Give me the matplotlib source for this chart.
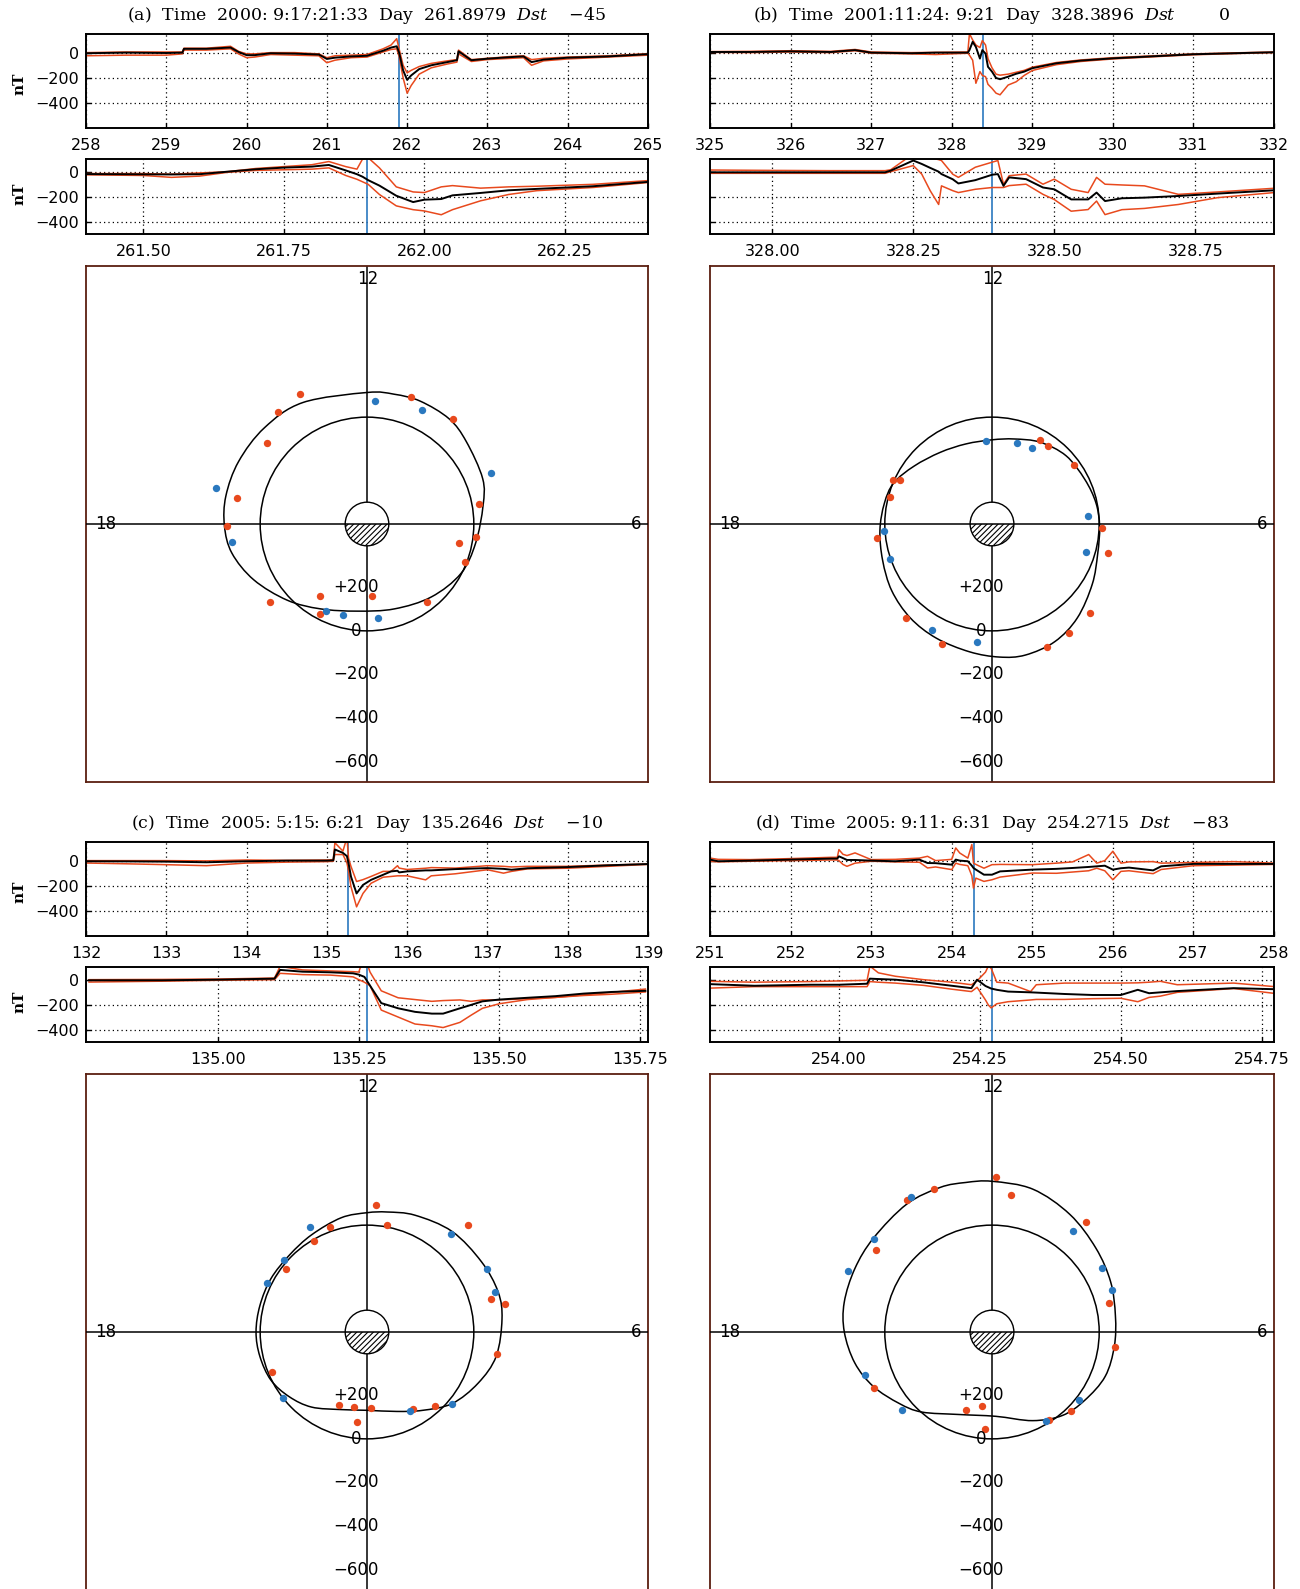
import numpy as np
import matplotlib
matplotlib.use("Agg")
import matplotlib.pyplot as plt
from matplotlib.patches import Circle, Wedge, PathPatch
from matplotlib.path import Path

plt.rcParams['font.family'] = ['DejaVu Sans']
plt.rcParams['mathtext.fontset'] = 'dejavuserif'
plt.rcParams['hatch.linewidth'] = 0.8

# ---------------- data ----------------
# panel (a)
A_EVENT = 261.8979
A_TITLE = "(a)  Time  2000: 9:17:21:33  Day  261.8979  $\\mathit{Dst}$    \u221245"
A_TOP_T = [258.0, 258.5, 259.0, 259.2, 259.22, 259.5, 259.8, 259.9, 260.0, 260.1, 260.3, 260.6, 260.9,
           261.0, 261.1, 261.3, 261.5, 261.7, 261.8, 261.87, 261.9, 261.95, 262.0, 262.05, 262.15, 262.3,
           262.5, 262.62, 262.64, 262.8, 263.0, 263.3, 263.45, 263.55, 263.7, 264.0, 264.5, 265.0]
A_TOP_BLACK = [-5, 0, -3, 0, 30, 30, 40, 5, -20, -20, -5, -8, -15, -50, -40, -30, -25, 15, 40, 50, 0, -140,
               -215, -180, -130, -100, -75, -60, 10, -60, -48, -35, -30, -75, -55, -40, -30, -12]
A_TOP_RED1 = [0, 5, 5, 5, 35, 35, 50, 10, -10, -10, 0, 0, -10, -40, -25, -20, -15, 30, 60, 110, 30, -100,
              -160, -140, -110, -85, -65, -55, 20, -55, -45, -30, -25, -55, -45, -35, -25, -8]
A_TOP_RED2 = [-25, -20, -20, -10, 20, 20, 30, -10, -40, -35, -15, -20, -25, -80, -60, -40, -35, 5, 25, 30, -30,
              -200, -320, -260, -170, -120, -90, -75, -10, -70, -55, -45, -40, -100, -65, -50, -35, -20]
A_BOT_T = [261.40, 261.50, 261.55, 261.60, 261.65, 261.70, 261.75, 261.80, 261.83, 261.86, 261.88, 261.89,
           261.90, 261.92, 261.95, 261.98, 262.00, 262.03, 262.05, 262.10, 262.15, 262.20, 262.30, 262.40]
A_BOT_BLACK = [-19, -21, -22, -20, 0, 19, 32, 40, 53, 10, -20, -40, -67, -110, -190, -240, -221, -216, -187,
               -168, -147, -136, -115, -80]
A_BOT_RED1 = [-15, -15, -20, -10, 0, 25, 40, 55, 80, 40, 20, 100, 110, 30, -120, -160, -165, -120, -110, -130,
              -120, -115, -100, -70]
A_BOT_RED2 = [-25, -30, -45, -35, -5, 10, 15, 20, 30, -30, -60, -80, -100, -180, -270, -300, -310, -340, -300,
              -230, -180, -150, -125, -85]
A_RED_LT = [13.82, 14.57, 15.40, 17.25, 18.05, 20.58, 21.80, 22.18, 0.28, 2.49, 4.60, 5.22, 5.55, 6.67, 9.39, 10.73]
A_RED_NT = [-179, -165, -103, -120, -154, -83, 98, 24, 161, 39, 9, 57, -15, -33, -133, -128]
A_BLUE_LT = [11.75, 10.27, 7.49, 17.11, 18.51, 22.33, 23.03, 0.45]
A_BLUE_NT = [-73, -89, -127, -224, -134, 49, 59, 58]
A_FIT_LT = [12.00, 11.21, 10.44, 9.47, 8.65, 7.43, 6.60, 5.34, 4.15, 2.76, 1.19, 23.58, 22.08, 20.91, 19.75,
            18.81, 18.05, 17.25, 16.27, 15.12, 13.86]
A_FIT_NT = [-113, -118, -124, -122, -102, -80, -49, -16, 3, 44, 81, 88, 46, -16, -89, -144, -164, -170, -165,
            -155, -140]

# panel (b)
B_EVENT = 328.3896
B_TITLE = "(b)  Time  2001:11:24: 9:21  Day  328.3896  $\\mathit{Dst}$        0"
B_TOP_T = [325.0, 325.5, 326.0, 326.5, 326.8, 327.0, 327.5, 327.8, 328.2, 328.22, 328.26, 328.3, 328.35, 328.38,
           328.42, 328.45, 328.5, 328.55, 328.6, 328.7, 328.8, 328.9, 329.0, 329.3, 329.6, 330.0, 330.5, 331.0,
           331.5, 332.0]
B_TOP_BLACK = [5, 5, 10, 5, 20, 0, -5, 0, 0, 20, 85, 45, -47, 20, -8, -112, -150, -200, -210, -190, -167, -150,
               -123, -84, -63, -45, -29, -13, -5, 3]
B_TOP_RED1 = [8, 10, 15, 10, 25, 5, 0, 2, 5, 150, 100, 60, 40, 95, 60, -47, -120, -170, -178, -170, -155, -140,
              -115, -78, -58, -40, -25, -10, -2, 5]
B_TOP_RED2 = [2, 0, 5, 0, 15, -5, -10, -15, -5, -20, -60, -242, -150, -180, -190, -250, -282, -320, -333, -256,
              -230, -180, -141, -95, -70, -50, -33, -17, -8, 0]
B_BOT_T = [327.89, 328.0, 328.1, 328.2, 328.21, 328.25, 328.265, 328.28, 328.295, 328.30, 328.32, 328.33, 328.36,
           328.39, 328.40, 328.41, 328.42, 328.45, 328.48, 328.50, 328.53, 328.56, 328.575, 328.59, 328.62,
           328.66, 328.72, 328.79, 328.89]
B_BOT_BLACK = [-5, -5, -5, -5, 8, 88, 61, 30, 0, -19, -60, -93, -67, -24, -19, -112, -45, -59, -125, -139, -219,
               -219, -165, -232, -210, -205, -192, -173, -147]
B_BOT_RED1 = [13, 10, 8, 8, 15, 141, 128, 110, 95, 88, -20, -45, 35, 75, 88, -99, -32, -19, -99, -59, -139, -165,
              -45, -99, -105, -112, -179, -160, -131]
B_BOT_RED2 = [-13, -13, -13, -13, 0, 48, -19, -150, -259, -112, -150, -165, -139, -125, -125, -125, -110, -99,
              -179, -220, -312, -299, -232, -339, -300, -290, -259, -205, -165]
B_RED_LT = [10.02, 9.63, 8.39, 16.41, 16.29, 17.03, 18.46, 5.85, 5.05, 21.17, 22.51, 1.60, 2.35, 3.18]
B_RED_NT = [46, 53, 26, -7, 24, 6, -41, -12, -59, -95, -106, -127, -121, -115]
B_BLUE_LT = [12.29, 10.87, 10.17, 6.32, 4.91, 18.25, 19.27, 22.04, 23.53]
B_BLUE_NT = [108, 101, 97, 49, 40, -3, -5, -67, -55]
B_FIT_LT = [12.00, 11.02, 9.97, 8.85, 7.71, 6.76, 5.91, 4.95, 3.93, 2.81, 1.87, 0.95, 0.21, 23.34, 22.27, 21.27,
            20.25, 19.23, 18.21, 17.27, 16.48, 15.55, 14.39, 13.20]
B_FIT_NT = [104, 87, 55, 29, 19, 5, -2, -12, -45, -91, -121, -130, -121, -105, -92, -80, -61, -37, -23, -11, 3,
            46, 85, 104]

# panel (c)
C_EVENT = 135.2646
C_TITLE = "(c)  Time  2005: 5:15: 6:21  Day  135.2646  $\\mathit{Dst}$    \u221210"
C_TOP_T = [132.0, 132.5, 133.0, 133.5, 134.0, 134.5, 135.0, 135.08, 135.1, 135.2, 135.25, 135.27, 135.3, 135.37,
           135.45, 135.55, 135.7, 135.8, 135.88, 135.9, 136.0, 136.23, 136.3, 136.6, 137.0, 137.2, 137.3, 137.5,
           138.0, 138.5, 139.0]
C_TOP_BLACK = [-5, -6, -8, -13, -5, 0, 0, 2, 88, 61, 35, -20, -125, -259, -192, -152, -112, -85, -80, -93, -85,
               -77, -77, -67, -59, -65, -72, -60, -51, -37, -27]
C_TOP_RED1 = [0, 0, 0, -2, 5, 2, 5, 8, 141, 75, 181, 20, -45, -165, -150, -125, -85, -85, -40, -59, -70, -60,
              -55, -59, -40, -45, -50, -45, -45, -35, -27]
C_TOP_RED2 = [-19, -25, -32, -40, -19, -12, -8, -5, 48, 48, -19, -80, -205, -365, -259, -179, -131, -125, -120,
              -120, -120, -152, -120, -104, -72, -99, -85, -65, -60, -45, -30]
C_BOT_T = [134.77, 134.90, 135.00, 135.10, 135.11, 135.15, 135.20, 135.24, 135.25, 135.26, 135.27, 135.29,
           135.32, 135.35, 135.38, 135.40, 135.43, 135.45, 135.47, 135.50, 135.55, 135.60, 135.65, 135.70, 135.76]
C_BOT_BLACK = [-5, -5, 0, 8, 77, 63, 58, 50, 40, 22, -47, -185, -226, -254, -268, -268, -226, -199, -171, -157,
               -143, -130, -110, -97, -88]
C_BOT_RED1 = [0, 2, 5, 13, 105, 77, 69, 63, 60, 188, 60, -88, -143, -157, -171, -165, -160, -171, -160, -160,
              -150, -140, -120, -100, -74]
C_BOT_RED2 = [-19, -12, -5, 0, 50, 40, 36, 22, 0, -20, -47, -240, -295, -350, -364, -378, -337, -280, -226, -190,
              -157, -140, -125, -115, -97]
C_RED_LT = [11.73, 11.29, 9.12, 13.30, 14.03, 15.47, 7.00, 6.77, 5.37, 19.53, 22.61, 23.35, 0.19, 23.57, 2.07, 2.85]
C_RED_NT = [-93, -10, -184, -19, 8, 17, -101, -155, -115, 15, 132, 141, 143, 77, 78, 28]
C_BLUE_LT = [13.89, 15.27, 16.27, 9.29, 7.85, 7.16, 20.55, 1.91, 3.31]
C_BLUE_NT = [-57, -15, -19, -105, -130, -123, 2, 79, -19]
C_FIT_LT = [12.00, 11.36, 10.51, 9.32, 8.10, 7.13, 6.36, 5.29, 4.35, 3.33, 2.35, 1.37, 0.00, 22.77, 21.57, 20.65,
            19.77, 18.85, 18.00, 17.08, 16.07, 15.01, 13.98, 12.85]
C_FIT_NT = [-57, -68, -89, -114, -126, -139, -132, -113, -71, -20, 50, 101, 131, 115, 62, 26, -3, -14, -19, -16,
            -14, -11, -23, -47]

# panel (d)
D_EVENT = 254.2715
D_TITLE = "(d)  Time  2005: 9:11: 6:31  Day  254.2715  $\\mathit{Dst}$    \u221283"
D_TOP_T = [251.0, 251.1, 251.5, 252.0, 252.5, 252.58, 252.6, 252.65, 252.7, 252.8, 253.0, 253.3, 253.6, 253.7,
           253.8, 254.0, 254.05, 254.1, 254.2, 254.25, 254.27, 254.3, 254.4, 254.5, 254.6, 255.0, 255.3, 255.5,
           255.7, 255.8, 255.9, 256.0, 256.1, 256.2, 256.5, 256.6, 257.0, 257.5, 258.0]
D_TOP_BLACK = [8, -5, 0, 8, 16, 16, 34, 20, 5, 5, 0, -5, 8, -19, -20, -32, 8, 0, -5, -40, -58, -71, -111, -111,
               -85, -71, -65, -58, -50, -45, -40, -71, -60, -55, -77, -45, -26, -26, -26]
D_TOP_RED1 = [20, 10, 8, 16, 26, 26, 87, 50, 40, 61, 8, 10, 20, 34, 0, 10, 100, 60, 20, 127, -20, -30, -60, -32,
              -30, -32, -20, -10, 48, -20, 0, 74, -20, -10, -8, -20, -15, -8, -20]
D_TOP_RED2 = [-5, -10, -5, 0, 5, 5, 0, -30, -45, -20, -5, -10, -13, -58, -50, -71, -20, -30, -40, -120, -217,
              -138, -164, -151, -130, -98, -100, -90, -80, -60, -80, -151, -85, -80, -103, -70, -40, -35, -30]
D_BOT_T = [253.77, 253.85, 253.95, 254.00, 254.05, 254.055, 254.07, 254.10, 254.15, 254.20, 254.235, 254.245,
           254.26, 254.265, 254.27, 254.28, 254.30, 254.34, 254.35, 254.40, 254.45, 254.50, 254.53, 254.55,
           254.57, 254.60, 254.70, 254.77]
D_BOT_BLACK = [-35, -48, -40, -40, -32, 8, 5, 0, -21, -48, -67, 0, -50, -60, -70, -80, -94, -100, -102, -113,
               -121, -121, -80, -107, -100, -90, -67, -75]
D_BOT_RED1 = [-13, -20, -15, -10, -5, 107, 54, 27, 0, -20, -40, -10, 60, 107, 90, -20, -27, -94, -40, -27, -27,
              -27, -25, -20, -13, -40, -27, -54]
D_BOT_RED2 = [-67, -55, -55, -55, -55, -15, -20, -27, -45, -75, -94, -60, -161, -200, -223, -190, -174, -160,
              -156, -156, -150, -147, -174, -140, -130, -100, -70, -107]
D_RED_LT = [11.90, 11.47, 13.47, 14.19, 9.29, 15.65, 6.92, 5.52, 19.70, 22.77, 23.50, 23.71, 2.99, 2.18]
D_RED_NT = [-223, -142, -215, -228, -172, -161, -63, -77, -107, 115, 149, 44, -19, 11]
D_BLUE_LT = [14.06, 15.44, 16.46, 9.43, 8.00, 7.30, 19.25, 20.72, 2.07, 3.45]
D_BLUE_NT = [-233, -200, -225, -101, -93, -90, -125, -55, 12, -17]
D_FIT_LT = [12.00, 10.94, 9.77, 8.60, 7.53, 6.50, 5.56, 4.57, 3.57, 2.67, 1.64, 0.17, 22.53, 21.25, 20.51, 19.65,
            18.85, 18.00, 17.24, 16.34, 15.43, 14.24, 13.31, 12.66]
D_FIT_NT = [-201, -191, -156, -121, -99, -79, -73, -66, -37, -10, 43, 103, 82, 2, -46, -107, -153, -185, -199,
            -201, -202, -214, -214, -206]

Y_TICKS = [0, -200, -400]
DIAL_LEVELS = [200, 0, -200, -400, -600]
DIAL_HOURS = [12, 18, 6]
ZERO_LEVEL = 0

# ---------------- styling / layout ----------------
W, H = 1300, 1589
fig = plt.figure(figsize=(W / 100, H / 100), dpi=100)

RED = '#e8491d'
BLUE = '#2a78bf'
FRAME = '#5a1f10'
R0 = 490.0      # dial radius offset (nT value sitting at the centre)
EARTH = 100.0   # earth disc radius in dial units
TICKFS = 11.5


def add_ax(x0, y0, x1, y1):
    return fig.add_axes([x0 / W, 1 - y1 / H, (x1 - x0) / W, (y1 - y0) / H])


def mfmt(v, fmt):
    return fmt.format(v).replace('-', '\u2212')


def draw_ts(ax, t, blk, r1, r2, xlim, xticks, xfmt, ylim, event, show_y):
    ax.axvline(event, color=BLUE, lw=1.2, zorder=1.8)
    ax.plot(t, r1, color=RED, lw=1.1, zorder=2)
    ax.plot(t, r2, color=RED, lw=1.1, zorder=2)
    ax.plot(t, blk, color='k', lw=1.4, zorder=3)
    ax.set_xlim(*xlim)
    ax.set_ylim(*ylim)
    ax.set_xticks(xticks)
    ax.set_xticklabels([mfmt(v, xfmt) for v in xticks])
    ax.set_yticks(Y_TICKS)
    if show_y:
        ax.set_yticklabels([mfmt(v, '{:d}') for v in Y_TICKS])
    else:
        ax.set_yticklabels([])
    ax.grid(True, color='k', ls=(0, (1, 2.5)), lw=0.9)
    ax.tick_params(direction='in', length=3.5, width=1.0, labelsize=TICKFS)
    ax.tick_params(axis='x', pad=7)
    ax.tick_params(axis='y', pad=5)
    for s in ax.spines.values():
        s.set_linewidth(1.4)


def dial_xy(lt, nt):
    lt = np.asarray(lt, float)
    nt = np.asarray(nt, float)
    ang = (12.0 - lt) * np.pi / 12.0
    r = R0 - nt
    return r * np.sin(ang), r * np.cos(ang)


def smooth_closed_path(x, y):
    """Closed curve through the given vertices, drawn with cubic Bezier segments."""
    p = np.column_stack([x, y])
    n = len(p)
    verts = [p[0]]
    codes = [Path.MOVETO]
    for i in range(n):
        p0, p1, p2, p3 = p[i - 1], p[i], p[(i + 1) % n], p[(i + 2) % n]
        verts += [p1 + (p2 - p0) / 6.0, p2 - (p3 - p1) / 6.0, p2]
        codes += [Path.CURVE4] * 3
    return Path(verts, codes)


def draw_dial(ax, red_lt, red_nt, blue_lt, blue_nt, fit_lt, fit_nt):
    ax.set_xlim(-1289, 1289)
    ax.set_ylim(-1183, 1183)
    ax.set_xticks([])
    ax.set_yticks([])
    for s in ax.spines.values():
        s.set_color(FRAME)
        s.set_linewidth(1.3)
    ax.axvline(0, color='k', lw=1.1, zorder=2)
    ax.axhline(0, color='k', lw=1.1, zorder=6)
    ax.add_patch(Circle((0, 0), R0 - ZERO_LEVEL, fill=False, ec='k', lw=1.1, zorder=3))
    fx, fy = dial_xy(fit_lt, fit_nt)
    ax.add_patch(PathPatch(smooth_closed_path(fx, fy), fill=False, ec='k', lw=1.1, zorder=3))
    ax.add_patch(Circle((0, 0), EARTH, fc='white', ec='none', zorder=4))
    ax.add_patch(Wedge((0, 0), EARTH, 180, 360, fc='white', ec='k', lw=0, hatch='//////', zorder=5))
    ax.add_patch(Circle((0, 0), EARTH, fill=False, ec='k', lw=1.0, zorder=5.5))
    rx, ry = dial_xy(red_lt, red_nt)
    ax.scatter(rx, ry, s=28, c=RED, lw=0, zorder=7)
    bx, by = dial_xy(blue_lt, blue_nt)
    ax.scatter(bx, by, s=28, c=BLUE, lw=0, zorder=7)
    for v in DIAL_LEVELS:
        lab = ('+' + str(v)) if v > 0 else mfmt(v, '{:d}')
        ax.text(-50, -(R0 - v), lab, ha='center', va='center', fontsize=12, zorder=8)
    ax.text(5, 1125, str(DIAL_HOURS[0]), ha='center', va='center', fontsize=12, zorder=8)
    ax.text(-1200, 0, str(DIAL_HOURS[1]), ha='center', va='center', fontsize=12, zorder=8)
    ax.text(1236, 0, str(DIAL_HOURS[2]), ha='center', va='center', fontsize=12, zorder=8)


panels = [
    (A_TITLE, A_EVENT, (258, 265), A_TOP_T, A_TOP_BLACK, A_TOP_RED1, A_TOP_RED2,
     [261.5, 261.75, 262.0, 262.25], A_BOT_T, A_BOT_BLACK, A_BOT_RED1, A_BOT_RED2,
     A_RED_LT, A_RED_NT, A_BLUE_LT, A_BLUE_NT, A_FIT_LT, A_FIT_NT, 0, 0, True),
    (B_TITLE, B_EVENT, (325, 332), B_TOP_T, B_TOP_BLACK, B_TOP_RED1, B_TOP_RED2,
     [328.0, 328.25, 328.5, 328.75], B_BOT_T, B_BOT_BLACK, B_BOT_RED1, B_BOT_RED2,
     B_RED_LT, B_RED_NT, B_BLUE_LT, B_BLUE_NT, B_FIT_LT, B_FIT_NT, 1, 0, False),
    (C_TITLE, C_EVENT, (132, 139), C_TOP_T, C_TOP_BLACK, C_TOP_RED1, C_TOP_RED2,
     [135.0, 135.25, 135.5, 135.75], C_BOT_T, C_BOT_BLACK, C_BOT_RED1, C_BOT_RED2,
     C_RED_LT, C_RED_NT, C_BLUE_LT, C_BLUE_NT, C_FIT_LT, C_FIT_NT, 0, 1, True),
    (D_TITLE, D_EVENT, (251, 258), D_TOP_T, D_TOP_BLACK, D_TOP_RED1, D_TOP_RED2,
     [254.0, 254.25, 254.5, 254.75], D_BOT_T, D_BOT_BLACK, D_BOT_RED1, D_BOT_RED2,
     D_RED_LT, D_RED_NT, D_BLUE_LT, D_BLUE_NT, D_FIT_LT, D_FIT_NT, 1, 1, False),
]

COLS = [(86, 648), (710, 1274)]
ROW_DY = [0, 808]

for (title, ev, topx, tt, tb, tr1, tr2, bticks, bt, bb, br1, br2,
     rlt, rnt, blt, bnt, flt, fnt, col, row, show_y) in panels:
    x0, x1 = COLS[col]
    dy = ROW_DY[row]
    xc = (x0 + x1) / 2
    fig.text(xc / W, 1 - (15 + dy) / H, title, ha='center', va='center',
             family='DejaVu Serif', fontsize=12.5)
    ax1 = add_ax(x0, 34 + dy, x1, 128 + dy)
    draw_ts(ax1, tt, tb, tr1, tr2, topx, list(range(topx[0], topx[1] + 1)), '{:d}',
            (-595, 147), ev, show_y)
    ax2 = add_ax(x0, 159 + dy, x1, 234 + dy)
    draw_ts(ax2, bt, bb, br1, br2, (ev - 0.5, ev + 0.5), bticks, '{:.2f}',
            (-492, 100), ev, show_y)
    if show_y:
        fig.text(19 / W, 1 - (84 + dy) / H, 'nT', rotation=90, ha='center', va='center',
                 family='DejaVu Serif', weight='bold', fontsize=11)
        fig.text(19 / W, 1 - (194 + dy) / H, 'nT', rotation=90, ha='center', va='center',
                 family='DejaVu Serif', weight='bold', fontsize=11)
    ax3 = add_ax(x0, 266 + dy, x1, 782 + dy)
    draw_dial(ax3, rlt, rnt, blt, bnt, flt, fnt)

fig.savefig('out.png', dpi=100)
